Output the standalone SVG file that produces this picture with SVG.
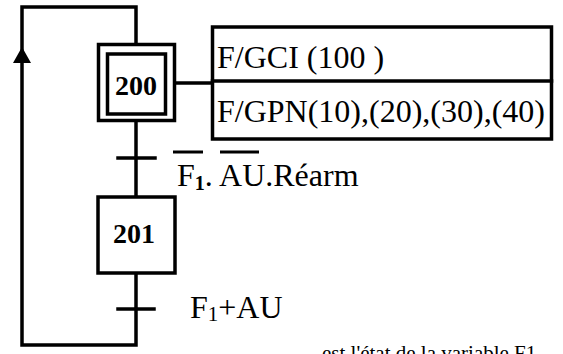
<svg xmlns="http://www.w3.org/2000/svg" width="563" height="354" viewBox="0 0 563 354">
<defs>
<style>
.ln{fill:none;stroke:#000;stroke-width:3.5;stroke-linecap:square}
.bx{fill:#fff;stroke:#000;stroke-width:3.5}
.num{font-family:"Liberation Serif",serif;font-weight:bold;font-size:28px;text-anchor:middle;fill:#000}
.tx{font-family:"Liberation Serif",serif;font-size:32px;fill:#000}
.sm{font-family:"Liberation Serif",serif;font-size:21px;fill:#000}
</style>
</defs>
<rect width="563" height="354" fill="#fff"/>
<g id="connectors">
<polyline class="ln" points="136,43 136,7 22,7 22,345 136,345 136,273"/>
<polygon points="22,47 13,63 31,63" fill="#000"/>
<line class="ln" x1="136" y1="122" x2="136" y2="197"/>
<line class="ln" x1="175" y1="83" x2="212" y2="83"/>
<line class="ln" x1="118" y1="158" x2="155" y2="158"/>
<line class="ln" x1="118" y1="309" x2="154" y2="309"/>
</g>
<g id="step200">
<rect class="bx" x="98.5" y="44.5" width="76" height="76"/>
<rect class="bx" x="107.5" y="54" width="58" height="60"/>
<text class="num" x="136" y="95">200</text>
</g>
<g id="step201">
<rect class="bx" x="98" y="197" width="77" height="76"/>
<text class="num" x="134" y="243">201</text>
</g>
<g id="actions">
<rect class="bx" x="212.5" y="27" width="339" height="112"/>
<line class="ln" x1="212.5" y1="81" x2="551.5" y2="81"/>
<text class="tx" x="217" y="68">F/GCI (100 )</text>
<text class="tx" x="217" y="122">F/GPN(10),(20),(30),(40)</text>
</g>
<g id="transition1-label">
<line x1="173" y1="152" x2="203" y2="152" stroke="#000" stroke-width="3"/>
<line x1="220" y1="152" x2="259" y2="152" stroke="#000" stroke-width="3"/>
<text class="tx" x="177" y="186">F<tspan font-size="20" font-weight="bold" dy="4">1</tspan><tspan dy="-4">. AU.Réarm</tspan></text>
</g>
<g id="transition2-label">
<text class="tx" x="190" y="318">F<tspan font-size="21" dy="3">1</tspan><tspan dy="-3">+AU</tspan></text>
</g>
<text class="sm" x="322" y="360">est l'état de la variable F1</text>
</svg>
